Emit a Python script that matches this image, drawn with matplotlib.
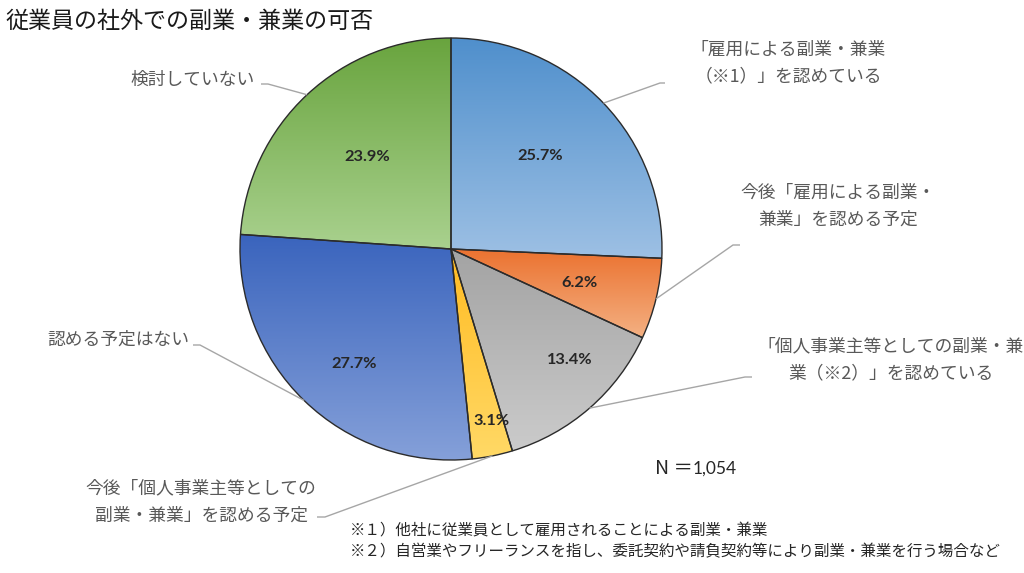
import numpy as np
import matplotlib
matplotlib.use("Agg")
import matplotlib.pyplot as plt
from matplotlib.colors import to_rgb

plt.rcParams['font.family'] = ['Noto Sans CJK JP', 'DejaVu Sans']

# ---- data ----
categories = [
    "「雇用による副業・兼業\n（※1）」を認めている",
    "今後「雇用による副業・\n兼業」を認める予定",
    "「個人事業主等としての副業・兼\n業（※2）」を認めている",
    "今後「個人事業主等としての\n副業・兼業」を認める予定",
    "認める予定はない",
    "検討していない",
]
values = [25.7, 6.2, 13.4, 3.1, 27.7, 23.9]
title = "従業員の社外での副業・兼業の可否"
n_text = "1,054"
footnotes = [
    "※１）他社に従業員として雇用されることによる副業・兼業",
    "※２）自営業やフリーランスを指し、委託契約や請負契約等により副業・兼業を行う場合など",
]

# ---- style ----
top_colors = ["#4F8FCC", "#EB7230", "#A3A3A3", "#FFBB22", "#3A64BD", "#69A43E"]
bot_colors = ["#9DC0E4", "#F4B183", "#CBCBCB", "#FFD966", "#85A0D9", "#A9D18E"]
pct_rfrac = [0.61, 0.63, 0.77, 0.84, 0.71, 0.59]
pct_dang = [2.5, -1.0, 6.0, 2.0, 4.0, -1.0]
label_pos = [(788, 63), (838, 206), (891, 360), (201, 502), (118, 340), (193, 80)]
elbow = [((660, 83), (665, 83)), ((733, 245), (740, 245)), ((745, 377), (752, 377)),
         ((325, 517), (317, 517)), ((200, 345), (193, 345)), ((268, 84), (261, 84))]

W, H = 1024, 573
def Y(y):
    return H - y

fig = plt.figure(figsize=(W / 100, H / 100), dpi=100)
ax = fig.add_axes([0, 0, 1, 1])

cx, cy, R = 451, Y(249), 211
wedges, _ = ax.pie(values, colors=top_colors, startangle=90, counterclock=False,
                   center=(cx, cy), radius=R,
                   wedgeprops=dict(edgecolor="#2b2b2b", linewidth=1.0))
ax.set_xlim(0, W)
ax.set_ylim(0, H)
ax.set_aspect('equal')
ax.axis('off')

t = np.linspace(0, 1, 256)[:, None]
for i, w in enumerate(wedges):
    th = np.radians(np.linspace(w.theta1, w.theta2, 200))
    ys = np.concatenate([[cy], cy + R * np.sin(th)])
    ymin, ymax = ys.min(), ys.max()
    c0, c1 = np.array(to_rgb(top_colors[i])), np.array(to_rgb(bot_colors[i]))
    img = (c0[None, None, :] * (1 - t[:, :, None]) + c1[None, None, :] * t[:, :, None])
    im = ax.imshow(img, extent=[cx - R, cx + R, ymin, ymax], origin='upper',
                   aspect='auto', interpolation='bilinear', zorder=1)
    im.set_clip_path(w)
    w.set_facecolor('none')
    w.set_zorder(3)

    mid = np.radians((w.theta1 + w.theta2) / 2)
    a = mid + np.radians(pct_dang[i])
    px = cx + R * pct_rfrac[i] * np.cos(a)
    py = cy + R * pct_rfrac[i] * np.sin(a)
    ax.text(px, py, f"{values[i]:.1f}%", ha='center', va='center', fontsize=11.8,
            fontweight='bold', color='#262626', family=['Lato', 'DejaVu Sans'], zorder=5)

    ex = cx + R * np.cos(mid)
    ey = cy + R * np.sin(mid)
    (bx, by), (ox, oy) = elbow[i]
    ax.plot([ex, bx, ox], [ey, Y(by), Y(oy)], color='#A6A6A6', lw=1.0, zorder=4,
            solid_capstyle='butt')
    lx, ly = label_pos[i]
    ax.text(lx, Y(ly), categories[i], ha='center', va='center', fontsize=12.8,
            color='#595959', linespacing=1.65, zorder=5)

ax.text(5, Y(21), title, ha='left', va='center', fontsize=16.6, color='#1a1a1a')
ax.text(655, Y(468), "N ＝", ha='left', va='center', fontsize=14, color='#262626')
ax.text(693, Y(469), n_text, ha='left', va='center', fontsize=12.5, color='#262626',
        family=['Lato', 'DejaVu Sans'])
ax.text(350, Y(531), footnotes[0], ha='left', va='center', fontsize=11.2, color='#262626')
ax.text(350, Y(552), footnotes[1], ha='left', va='center', fontsize=11.2, color='#262626')

fig.savefig("out.png", dpi=100)
